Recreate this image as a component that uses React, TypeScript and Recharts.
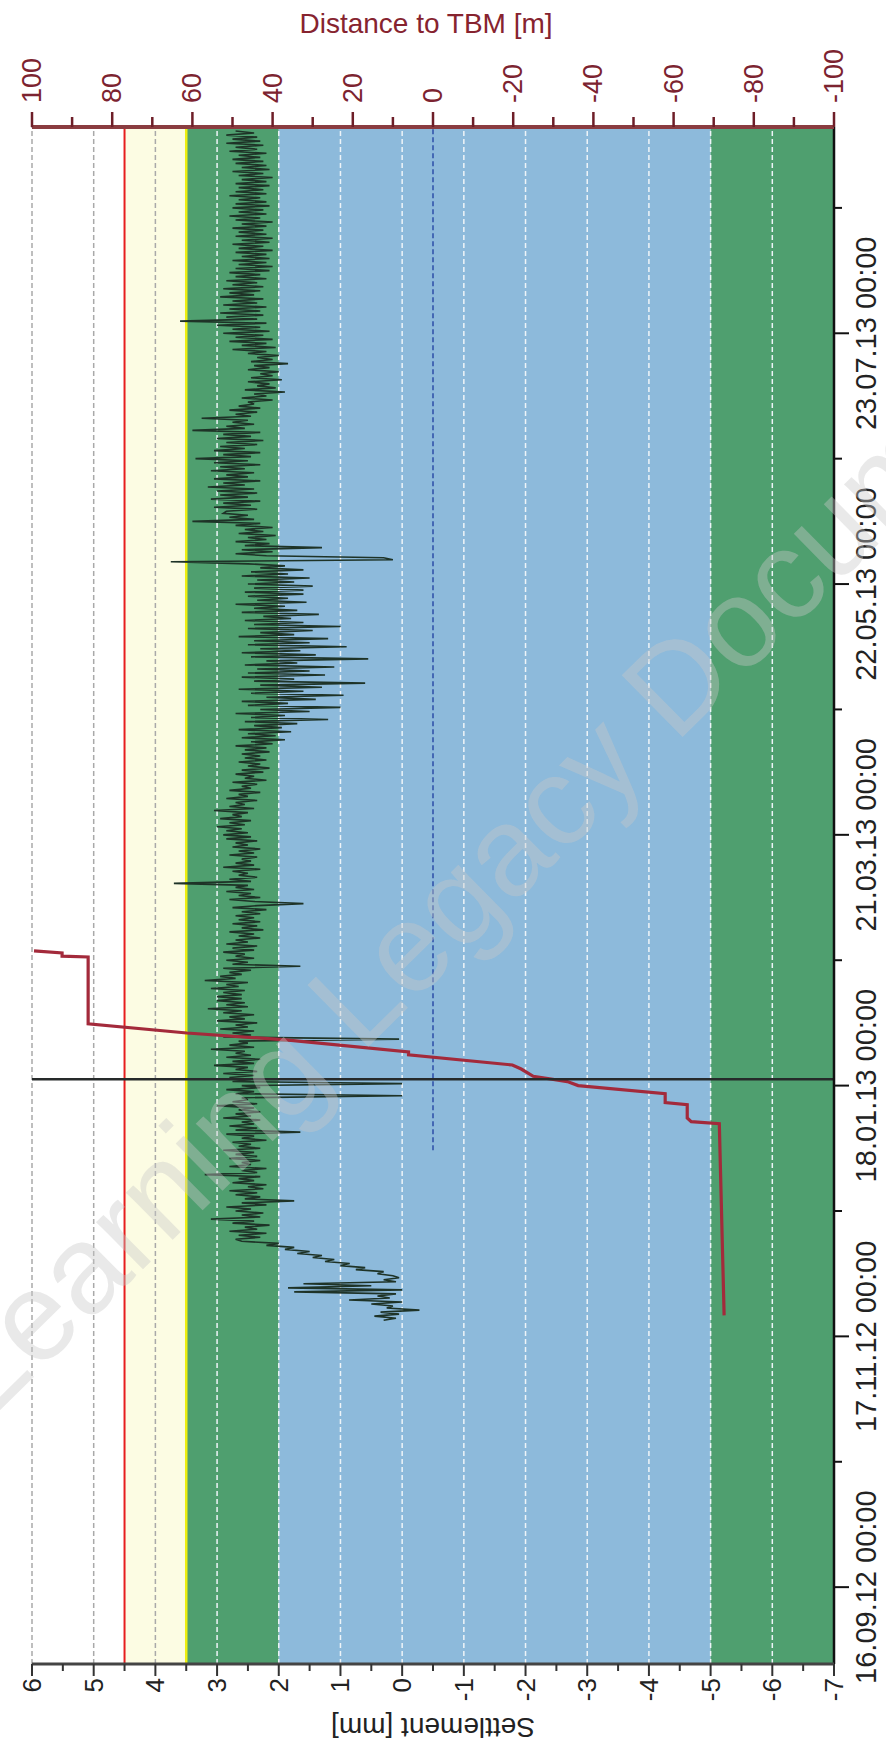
import React from "react";
import { ComposedChart, Line, XAxis, YAxis, ReferenceArea, ReferenceLine } from "recharts";

const DAY = 86400000;
const FONT = "'Liberation Sans', Arial, sans-serif";
const toT = (s: string) => Date.parse(s);

// time axis
const timeDomain = ["2012-08-28", "2013-09-12"];
const majorDates = ["2012-09-16", "2012-11-17", "2013-01-18", "2013-03-21", "2013-05-22", "2013-07-23"];
const minorDates = ["2012-10-17", "2012-12-18", "2013-02-18", "2013-04-21", "2013-06-22", "2013-08-23"];

// settlement axis [mm]
const settlementTicks = [-7, -6.5, -6, -5.5, -5, -4.5, -4, -3.5, -3, -2.5, -2, -1.5, -1, -0.5, 0, 0.5, 1, 1.5, 2, 2.5, 3, 3.5, 4, 4.5, 5, 5.5, 6];
const settlementGrid = [6, 5, 4, 3, 2, 1, 0, -1, -2, -3, -4, -5, -6];
const limitRed = 4.5;
const limitYellow = 3.5;
const greenUpper = [2, 3.5];
const blueZone = [-5, 2];
const greenLower = [-7, -5];

// distance axis [m]
const distanceTicks = [-100, -90, -80, -70, -60, -50, -40, -30, -20, -10, 0, 10, 20, 30, 40, 50, 60, 70, 80, 90, 100];

// settlement readings, one every 12 h, starting 21.11.12
const settlementStart = "2012-11-21";
const seg01 = [0.3, 0.1, 0.45, 0.05, 0.35, -0.28, 0.25, 0.15, 0.5, 0.0, 0.86, 0.2, 0.4, 0.1, 1.75, 0.0, 1.85, 0.5, 1.6, 0.1, 0.3, 0.05, 0.15, 0.4, 0.3, 0.75, 0.6, 1.0, 0.85, 1.25, 1.1, 1.45, 1.3, 1.7, 1.5, 1.9, 1.75, 2.2, 2.0, 2.6];
const seg02 = [2.7, 2.3, 2.65, 2.2, 2.8, 2.35, 2.55, 2.15, 2.75, 2.4, 3.1, 2.3, 2.6, 2.25, 2.7, 2.45, 2.85, 2.2, 2.6, 1.75, 2.55, 2.3, 2.7, 2.35, 2.8, 2.25, 2.5, 2.2, 2.75, 2.4, 2.65, 2.3, 3.2, 2.35, 2.6, 2.2, 2.8, 2.45, 2.6, 2.3];
const seg03 = [2.8, 2.35, 2.7, 2.4, 2.9, 2.3, 2.65, 2.45, 2.75, 2.2, 2.6, 2.4, 2.85, 1.65, 2.7, 2.35, 2.8, 2.4, 2.6, 2.3, 2.9, 2.45, 2.7, 2.3, 2.65, 2.4, 3.0, 2.35, 2.75, 2.5, 2.6, 0.0, 2.7, 2.4, 2.85, 2.3, 2.6, 0.0, 2.75, 2.45];
const seg04 = [2.8, 2.4, 2.9, 2.35, 2.7, 2.5, 3.05, 2.4, 2.75, 2.3, 2.85, 2.45, 2.7, 2.55, 3.1, 2.4, 2.8, 2.5, 2.65, 0.05, 2.9, 2.45, 2.75, 2.4, 2.95, 2.5, 2.7, 2.35, 3.0, 2.55, 2.8, 2.4, 2.9, 2.6, 3.15, 2.5, 2.85, 2.55, 3.0, 2.6];
const seg05 = [3.0, 2.6, 2.9, 2.55, 3.1, 2.65, 2.85, 2.5, 3.2, 2.7, 2.95, 2.6, 2.8, 2.45, 2.9, 1.65, 2.75, 2.5, 2.85, 2.4, 2.7, 2.55, 2.9, 2.4, 2.75, 2.35, 2.85, 2.5, 2.7, 2.3, 2.65, 2.4, 2.8, 2.25, 2.6, 2.35, 2.75, 2.3, 2.65, 2.4];
const seg06 = [2.7, 2.3, 2.6, 2.2, 2.75, 2.35, 1.6, 2.4, 2.8, 2.3, 2.65, 2.45, 2.85, 2.4, 2.7, 2.5, 3.7, 2.45, 2.8, 2.35, 2.65, 2.5, 2.75, 2.3, 2.9, 2.4, 2.7, 2.45, 2.6, 2.35, 2.8, 2.4, 2.65, 2.3, 2.75, 2.5, 2.7, 2.35, 2.85, 2.45];
const seg07 = [2.9, 2.5, 2.85, 2.6, 3.0, 2.55, 2.8, 2.45, 2.95, 2.6, 2.75, 2.5, 3.05, 2.4, 2.8, 2.55, 2.7, 2.35, 2.85, 2.5, 2.65, 2.3, 2.8, 2.45, 2.6, 2.35, 2.75, 2.2, 2.55, 2.4, 2.7, 2.25, 2.6, 2.15, 2.5, 2.3, 2.65, 2.2, 2.55, 2.3];
const seg08 = [2.6, 2.15, 2.55, 2.2, 2.7, 2.1, 2.45, 1.9, 2.6, 2.05, 2.5, 1.8, 2.65, 1.95, 2.4, 1.7, 2.55, 1.2, 2.45, 1.9, 2.7, 1.5, 2.3, 1.0, 2.5, 1.85, 2.6, 1.4, 2.2, 0.95, 2.45, 1.6, 2.65, 1.3, 2.3, 0.6, 2.4, 1.75, 2.6, 1.25];
const seg09 = [2.5, 1.5, 2.35, 1.1, 2.55, 1.7, 2.2, 0.55, 2.45, 1.4, 2.6, 1.65, 2.3, 0.9, 2.5, 1.5, 2.4, 1.2, 2.65, 1.75, 2.3, 1.45, 2.5, 1.0, 2.4, 1.6, 2.55, 1.8, 2.25, 1.35, 2.6, 1.7, 2.4, 1.9, 2.7, 1.55, 2.35, 1.85, 2.5, 1.6];
const seg10 = [2.55, 1.6, 2.4, 1.45, 2.5, 1.75, 2.35, 1.5, 2.6, 1.85, 2.45, 1.6, 2.3, 1.9, 2.5, 3.75, 0.15, 0.3, 2.2, 2.7, 2.1, 2.6, 1.3, 2.55, 2.15, 2.7, 2.2, 2.5, 2.05, 2.65, 2.25, 2.55, 2.1, 2.7, 2.3, 3.4, 2.4, 2.8, 2.5, 2.9];
const seg11 = [2.85, 2.35, 3.05, 2.45, 2.9, 2.3, 3.1, 2.5, 2.95, 2.35, 3.0, 2.4, 3.15, 2.55, 2.9, 2.3, 3.05, 2.5, 2.85, 2.4, 3.1, 2.55, 2.95, 2.3, 3.05, 2.5, 3.35, 2.45, 2.9, 2.3, 3.05, 2.55, 2.95, 2.35, 2.85, 2.25, 3.0, 2.45, 2.9, 2.3];
const seg12 = [3.4, 2.55, 2.85, 2.4, 2.75, 2.5, 3.25, 2.45, 2.7, 2.35, 2.8, 2.3, 2.65, 2.4, 2.5, 2.1, 2.6, 2.2, 2.4, 1.9, 2.55, 2.05, 2.35, 2.15, 2.5, 1.95, 2.45, 2.1, 2.3, 2.0, 2.5, 2.15, 2.4, 1.85, 2.45, 2.1, 2.35, 2.0, 2.5, 2.2];
const seg13 = [2.75, 2.05, 2.6, 2.2, 2.8, 2.1, 2.7, 2.25, 2.9, 2.15, 2.75, 2.3, 3.0, 2.2, 3.6, 2.35, 2.85, 2.25, 2.95, 2.3, 2.8, 2.2, 2.9, 2.35, 2.75, 2.25, 2.95, 2.4, 2.8, 2.3, 2.9, 2.25, 2.75, 2.35, 2.85, 2.2, 2.7, 2.3, 2.8, 2.15];
const seg14 = [2.7, 2.1, 2.65, 2.2, 2.75, 2.15, 2.6, 2.2, 2.7, 2.1, 2.65, 2.25, 2.75, 2.15, 2.6, 2.1, 2.7, 2.2, 2.65, 2.25, 2.75, 2.2, 2.6, 2.1, 2.7, 2.3, 2.8, 2.2, 2.65, 2.25, 2.75, 2.15, 2.7, 2.2, 2.65, 2.3, 2.8, 2.2, 2.7, 2.25];
const seg15 = [2.65, 2.15, 2.7, 2.2, 2.6, 2.1, 2.65, 2.25, 2.75, 2.15, 2.6, 2.2, 2.7, 2.25, 2.75, 2.3, 2.65, 2.2, 2.8, 2.35, 2.7, 2.25, 2.85, 2.3, 2.75, 2.35, 2.85, 2.4, 2.7];

// distance to TBM, days after 16.09.12
const tbmDays = [67.2, 114.6, 115.1, 116.0, 119.3, 119.8, 122.0, 124.0, 125.0, 126.3, 128.1, 129.1, 131.6, 132.3, 135.3, 137.0, 139.3, 155.8, 156.0, 156.8, 157.3];
const tbmDistance = [-72.6, -71.4, -64.4, -63.4, -63.4, -57.9, -57.9, -36.2, -33.5, -25.0, -22.0, -19.8, 6.1, 6.1, 36.7, 61.4, 86.0, 86.0, 92.5, 92.5, 99.5];
const faceDays = [108, 361];
const faceDistance = [0, 0];
const passageDay = 125.6;

const origin = toT("2012-09-16");
const settlementData = [seg01, seg02, seg03, seg04, seg05, seg06, seg07, seg08, seg09, seg10, seg11, seg12, seg13, seg14, seg15]
  .flat()
  .map((v, i) => ({ t: toT(settlementStart) + i * 0.5 * DAY, v }));
const tbmData = tbmDays.map((d, i) => ({ t: origin + d * DAY, d: tbmDistance[i] }));
const faceData = faceDays.map((d, i) => ({ t: origin + d * DAY, d: faceDistance[i] }));
const dateTicks = [...majorDates, ...minorDates].map(toT).sort((a, b) => a - b);
const majorSet = new Set(majorDates.map(toT));

const fmt = (t: number) => {
  const d = new Date(t);
  const p = (n: number) => String(n).padStart(2, "0");
  return `${p(d.getUTCDate())}.${p(d.getUTCMonth() + 1)}.${String(d.getUTCFullYear()).slice(2)} 00:00`;
};

function DateTick({ x, y, payload }: any) {
  const major = majorSet.has(payload.value);
  return (
    <g>
      <line x1={x} x2={x} y1={y} y2={y + (major ? 15 : 8)} stroke="#111" strokeWidth={2} />
      {major && (
        <text x={x} y={y + 42} textAnchor="middle" fontSize={29} fill="#222" fontFamily={FONT}>
          {fmt(payload.value)}
        </text>
      )}
    </g>
  );
}

function SettlementTick({ x, y, payload }: any) {
  const v = payload.value;
  const major = Number.isInteger(v);
  return (
    <g>
      <line x1={x} x2={x - (major ? 12 : 7)} y1={y} y2={y} stroke="#333" strokeWidth={2} />
      {major && (
        <text x={x - 14} y={y} textAnchor="end" dominantBaseline="central" fontSize={26} fill="#222" fontFamily={FONT}>
          {String(v)}
        </text>
      )}
    </g>
  );
}

function DistanceTick({ x, y, payload }: any) {
  const v = payload.value;
  const major = v % 20 === 0;
  return (
    <g>
      <line x1={x} x2={x + (major ? 15 : 10)} y1={y} y2={y} stroke="#6e1e28" strokeWidth={2.5} />
      {major && (
        <text x={x + 24} y={y} textAnchor="start" dominantBaseline="central" fontSize={27} fill="#7c2330" fontFamily={FONT}>
          {String(v)}
        </text>
      )}
    </g>
  );
}

export default function App() {
  return (
    <div style={{ position: "absolute", left: 0, top: 0, width: 886, height: 1755, overflow: "hidden", background: "#fff" }}>
      <div style={{ position: "absolute", left: 0, top: 1755, width: 1755, height: 886, transformOrigin: "0 0", transform: "rotate(-90deg)" }}>
        <ComposedChart width={1755} height={886} margin={{ top: 32, right: 0, bottom: 0, left: 0 }}>
          <XAxis
            dataKey="t"
            type="number"
            domain={timeDomain.map(toT)}
            allowDataOverflow
            ticks={dateTicks}
            interval={0}
            tick={(p: any) => <DateTick {...p} />}
            tickLine={false}
            tickSize={0}
            tickMargin={0}
            height={52}
            axisLine={{ stroke: "#111", strokeWidth: 2.5 }}
          />
          <YAxis
            yAxisId="s"
            orientation="left"
            type="number"
            domain={[-7, 6]}
            allowDataOverflow
            ticks={settlementTicks}
            interval={0}
            tick={(p: any) => <SettlementTick {...p} />}
            tickLine={false}
            tickSize={0}
            tickMargin={0}
            width={91}
            axisLine={{ stroke: "#444", strokeWidth: 3 }}
          />
          <YAxis
            yAxisId="d"
            orientation="right"
            type="number"
            domain={[-100, 100]}
            allowDataOverflow
            ticks={distanceTicks}
            interval={0}
            tick={(p: any) => <DistanceTick {...p} />}
            tickLine={false}
            tickSize={0}
            tickMargin={0}
            width={127}
            axisLine={{ stroke: "#8a3c40", strokeWidth: 4 }}
          />

          <ReferenceArea yAxisId="s" y1={limitYellow} y2={limitRed} fill="#fcfce3" fillOpacity={1} stroke="none" />
          <ReferenceArea yAxisId="s" y1={greenUpper[0]} y2={greenUpper[1]} fill="#4f9f6f" fillOpacity={1} stroke="none" />
          <ReferenceArea yAxisId="s" y1={blueZone[0]} y2={blueZone[1]} fill="#8dbadb" fillOpacity={1} stroke="none" />
          <ReferenceArea yAxisId="s" y1={greenLower[0]} y2={greenLower[1]} fill="#4f9f6f" fillOpacity={1} stroke="none" />

          {settlementGrid.map((g) => (
            <ReferenceLine
              key={g}
              yAxisId="s"
              y={g}
              stroke={g >= 4 ? "#a9a9a9" : "#eef4f8"}
              strokeWidth={1.5}
              strokeDasharray="5 3"
            />
          ))}
          <ReferenceLine yAxisId="s" y={limitRed} stroke="#e61e1e" strokeWidth={2} />
          <ReferenceLine yAxisId="s" y={limitYellow} stroke="#eeee10" strokeWidth={2.5} />

          <Line
            data={faceData}
            dataKey="d"
            yAxisId="d"
            type="linear"
            stroke="#2c4ea8"
            strokeWidth={1.5}
            strokeDasharray="5 3"
            dot={false}
            isAnimationActive={false}
          />
          <Line
            data={settlementData}
            dataKey="v"
            yAxisId="s"
            type="linear"
            stroke="#1e3327"
            strokeWidth={1.6}
            dot={false}
            isAnimationActive={false}
          />
          <Line
            data={tbmData}
            dataKey="d"
            yAxisId="d"
            type="linear"
            stroke="#a32a3b"
            strokeWidth={3.2}
            dot={false}
            isAnimationActive={false}
          />
          <ReferenceLine yAxisId="s" x={origin + passageDay * DAY} stroke="#262a2a" strokeWidth={2.5} />

          <text
            transform="translate(28, 433) rotate(-90)"
            textAnchor="middle"
            dominantBaseline="central"
            fontSize={28}
            fill="#222"
            fontFamily={FONT}
          >
            Settlement [mm]
          </text>
          <text
            transform="translate(1722, 426) rotate(90)"
            textAnchor="middle"
            fontSize={28}
            fill="#86232f"
            fontFamily={FONT}
          >
            Distance to TBM [m]
          </text>
        </ComposedChart>
      </div>
      <svg width={886} height={1755} style={{ position: "absolute", left: 0, top: 0, pointerEvents: "none" }}>
        <text
          x={-13}
          y={1423}
          transform="rotate(-44.6 -13 1423)"
          fontSize={126}
          fill="#c8c8c8"
          fillOpacity={0.4}
          fontFamily={FONT}
        >
          Learning Legacy Document
        </text>
      </svg>
    </div>
  );
}
